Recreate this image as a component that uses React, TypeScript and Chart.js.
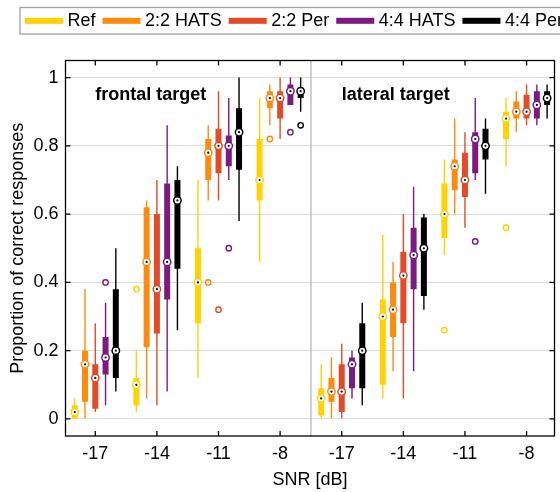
import React, { useEffect, useRef } from 'react';
import { Chart, registerables } from 'chart.js';

Chart.register(...registerables);

const FONT = "'Liberation Sans', Arial, Helvetica, sans-serif";

// ---- categories and labels ----
const snrLevels = [-17, -14, -11, -8];
const snrTickLabels = ['-17', '-14', '-11', '-8'];
const panelTitles = ['frontal target', 'lateral target'];
const panelShift = [0, 12]; // the lateral panel sits 12 dB to the right on the shared axis
const panelDivider = -6.5;
const seriesNames = ['Ref', '2:2 HATS', '2:2 Per', '4:4 HATS', '4:4 Per'];
const seriesColors = ['#FFD200', '#FF8A0E', '#E34B28', '#7B1A80', '#000000'];
const seriesOffsets = [-1, -0.5, 0, 0.5, 1]; // dB offset of each series within a group
const yTickValues = [0, 0.2, 0.4, 0.6, 0.8, 1];

// ---- box statistics: [min, q1, median, q3, max] per SNR level ----
type Stats = [number, number, number, number, number];

const refFrontal: Stats[] = [
  [0, 0, 0.02, 0.04, 0.06],
  [0.02, 0.04, 0.1, 0.12, 0.2],
  [0.12, 0.28, 0.4, 0.5, 0.7],
  [0.46, 0.64, 0.7, 0.82, 0.94],
];
const hats22Frontal: Stats[] = [
  [0, 0.05, 0.16, 0.2, 0.38],
  [0.06, 0.21, 0.46, 0.62, 0.64],
  [0.64, 0.7, 0.78, 0.82, 0.86],
  [0.86, 0.91, 0.94, 0.96, 0.98],
];
const per22Frontal: Stats[] = [
  [0.02, 0.03, 0.12, 0.16, 0.28],
  [0.04, 0.25, 0.38, 0.6, 0.7],
  [0.64, 0.72, 0.8, 0.85, 0.96],
  [0.82, 0.88, 0.94, 0.96, 1.0],
];
const hats44Frontal: Stats[] = [
  [0.04, 0.13, 0.18, 0.24, 0.34],
  [0.08, 0.35, 0.46, 0.69, 0.86],
  [0.7, 0.74, 0.8, 0.83, 0.94],
  [0.92, 0.92, 0.96, 0.98, 1.0],
];
const per44Frontal: Stats[] = [
  [0.08, 0.12, 0.2, 0.38, 0.5],
  [0.26, 0.44, 0.64, 0.7, 0.74],
  [0.58, 0.73, 0.84, 0.91, 1.0],
  [0.9, 0.94, 0.96, 0.97, 1.0],
];

const refLateral: Stats[] = [
  [0, 0.01, 0.06, 0.09, 0.16],
  [0.06, 0.1, 0.3, 0.35, 0.54],
  [0.48, 0.53, 0.6, 0.69, 0.76],
  [0.74, 0.82, 0.88, 0.9, 0.94],
];
const hats22Lateral: Stats[] = [
  [0, 0.05, 0.08, 0.12, 0.18],
  [0.14, 0.24, 0.32, 0.4, 0.46],
  [0.6, 0.67, 0.74, 0.76, 0.88],
  [0.84, 0.88, 0.9, 0.93, 0.96],
];
const per22Lateral: Stats[] = [
  [0, 0.02, 0.08, 0.16, 0.22],
  [0.06, 0.28, 0.42, 0.49, 0.6],
  [0.56, 0.65, 0.7, 0.78, 0.84],
  [0.86, 0.88, 0.9, 0.95, 0.98],
];
const hats44Lateral: Stats[] = [
  [0.06, 0.09, 0.16, 0.18, 0.2],
  [0.14, 0.38, 0.48, 0.56, 0.68],
  [0.7, 0.72, 0.82, 0.84, 0.94],
  [0.86, 0.88, 0.92, 0.96, 0.98],
];
const per44Lateral: Stats[] = [
  [0.04, 0.09, 0.2, 0.28, 0.34],
  [0.32, 0.36, 0.5, 0.59, 0.6],
  [0.66, 0.76, 0.8, 0.85, 0.88],
  [0.88, 0.92, 0.94, 0.96, 0.98],
];

// ---- outliers: [snr, value] ----
const refFrontalOutliers = [[-14, 0.38]];
const hats22FrontalOutliers = [[-11, 0.4], [-8, 0.82]];
const per22FrontalOutliers = [[-11, 0.32]];
const hats44FrontalOutliers = [[-17, 0.4], [-11, 0.5], [-8, 0.84]];
const per44FrontalOutliers = [[-8, 0.86]];

const refLateralOutliers = [[-11, 0.26], [-8, 0.56]];
const hats22LateralOutliers: number[][] = [];
const per22LateralOutliers: number[][] = [];
const hats44LateralOutliers = [[-11, 0.52]];
const per44LateralOutliers: number[][] = [];

const panelStats = [
  [refFrontal, hats22Frontal, per22Frontal, hats44Frontal, per44Frontal],
  [refLateral, hats22Lateral, per22Lateral, hats44Lateral, per44Lateral],
];
const panelOutliers = [
  [refFrontalOutliers, hats22FrontalOutliers, per22FrontalOutliers, hats44FrontalOutliers, per44FrontalOutliers],
  [refLateralOutliers, hats22LateralOutliers, per22LateralOutliers, hats44LateralOutliers, per44LateralOutliers],
];

const xTickValues = panelShift.flatMap((sh) => snrLevels.map((l) => l + sh));
const xTickLabels = panelShift.flatMap(() => snrTickLabels);

function buildDatasets() {
  const datasets: any[] = [];
  seriesNames.forEach((name, s) => {
    const color = seriesColors[s];
    const whiskers: any[] = [];
    const boxes: any[] = [];
    const medians: any[] = [];
    const outliers: any[] = [];
    panelStats.forEach((stats, p) => {
      stats[s].forEach((st, i) => {
        const x = snrLevels[i] + panelShift[p] + seriesOffsets[s];
        whiskers.push({ x, y: [st[0], st[4]] });
        boxes.push({ x, y: [st[1], st[3]] });
        medians.push({ x, y: st[2] });
      });
      panelOutliers[p][s].forEach(([snr, v]) => {
        outliers.push({ x: snr + panelShift[p] + seriesOffsets[s], y: v });
      });
    });
    datasets.push({
      type: 'bar', label: name + ' range', data: whiskers, backgroundColor: color,
      grouped: false, barThickness: 1.4, maxBarThickness: 1.4, borderWidth: 0, inflateAmount: 0, order: 40,
    });
    datasets.push({
      type: 'bar', label: name + ' IQR', data: boxes, backgroundColor: color,
      grouped: false, barThickness: 6, maxBarThickness: 6, borderWidth: 0, inflateAmount: 0, order: 30,
    });
    datasets.push({
      type: 'scatter', label: name + ' outliers', data: outliers, pointStyle: 'circle',
      pointRadius: 2.7, pointBorderWidth: 1.4, borderColor: color, pointBorderColor: color,
      pointBackgroundColor: '#ffffff', backgroundColor: '#ffffff', order: 20,
    });
    datasets.push({
      type: 'scatter', label: name + ' median', data: medians, pointStyle: 'circle',
      pointRadius: 3.7, pointBorderWidth: 1.5, borderColor: color, pointBorderColor: color,
      pointBackgroundColor: '#ffffff', backgroundColor: '#ffffff', order: 10,
    });
    datasets.push({
      type: 'scatter', label: name + ' median dot', data: medians, pointStyle: 'circle',
      pointRadius: 1.1, pointBorderWidth: 0, pointBackgroundColor: '#000000',
      backgroundColor: '#000000', borderColor: '#000000', order: 5,
    });
  });
  return datasets;
}

const decorations = {
  id: 'decorations',
  beforeDatasetsDraw(chart: any) {
    const { ctx, chartArea: a, scales } = chart;
    const px = scales.x.getPixelForValue(panelDivider);
    ctx.save();
    ctx.strokeStyle = '#b5b5b5';
    ctx.lineWidth = 1.3;
    ctx.beginPath();
    ctx.moveTo(px, a.top);
    ctx.lineTo(px, a.bottom);
    ctx.stroke();
    ctx.restore();
  },
  afterDraw(chart: any) {
    const { ctx, chartArea: a, scales } = chart;
    const xs = scales.x;
    const ys = scales.y;
    ctx.save();

    // panel titles
    ctx.fillStyle = '#000';
    ctx.font = `bold 18px ${FONT}`;
    ctx.textAlign = 'left';
    ctx.textBaseline = 'middle';
    panelTitles.forEach((t, p) => {
      ctx.fillText(t, xs.getPixelForValue(snrLevels[0] + panelShift[p]), ys.getPixelForValue(0.95));
    });

    // frame with inward ticks on all sides
    ctx.strokeStyle = '#000';
    ctx.lineWidth = 1.3;
    ctx.strokeRect(a.left, a.top, a.right - a.left, a.bottom - a.top);
    ctx.beginPath();
    const tl = 5;
    xTickValues.forEach((v) => {
      const px = xs.getPixelForValue(v);
      ctx.moveTo(px, a.bottom);
      ctx.lineTo(px, a.bottom - tl);
      ctx.moveTo(px, a.top);
      ctx.lineTo(px, a.top + tl);
    });
    yTickValues.forEach((v) => {
      const py = ys.getPixelForValue(v);
      ctx.moveTo(a.left, py);
      ctx.lineTo(a.left + tl, py);
      ctx.moveTo(a.right, py);
      ctx.lineTo(a.right - tl, py);
    });
    ctx.stroke();

    // legend
    const boxLeft = 20;
    const boxTop = 7.5;
    const boxBottom = 34;
    const midY = 20.8;
    ctx.strokeStyle = '#a0a0a0';
    ctx.lineWidth = 1.3;
    ctx.strokeRect(boxLeft, boxTop, chart.width + 20 - boxLeft, boxBottom - boxTop);
    ctx.font = `18px ${FONT}`;
    ctx.textBaseline = 'middle';
    let lx = boxLeft + 5;
    seriesNames.forEach((name, s) => {
      ctx.fillStyle = seriesColors[s];
      ctx.fillRect(lx, midY - 3, 38, 6);
      ctx.fillStyle = '#000';
      const tx = lx + 38 + 4.5;
      ctx.fillText(name, tx, midY);
      lx = tx + ctx.measureText(name).width + 7;
    });
    ctx.restore();
  },
};

export default function App() {
  const canvasRef = useRef<HTMLCanvasElement | null>(null);

  useEffect(() => {
    if (!canvasRef.current) return;
    const chart = new Chart(canvasRef.current, {
      type: 'bar',
      data: { datasets: buildDatasets() },
      options: {
        animation: false,
        responsive: false,
        events: [],
        layout: { padding: { top: 60.5, right: 0.5, left: 0, bottom: 0 } },
        plugins: {
          legend: { display: false },
          tooltip: { enabled: false },
        },
        scales: {
          x: {
            type: 'linear',
            min: -18.45,
            max: 5.36,
            offset: false,
            grid: { display: false, drawTicks: false, offset: false },
            border: { display: false },
            afterBuildTicks: (scale: any) => {
              scale.ticks = xTickValues.map((v) => ({ value: v }));
            },
            afterFit: (scale: any) => {
              scale.height = 56;
            },
            ticks: {
              autoSkip: false,
              maxRotation: 0,
              padding: 7,
              color: '#000',
              font: { family: FONT, size: 18 },
              callback: (_v: any, i: number) => xTickLabels[i],
            },
            title: {
              display: true,
              text: 'SNR [dB]',
              color: '#000',
              font: { family: FONT, size: 18 },
              padding: { top: 0, bottom: 1 },
            },
          },
          y: {
            type: 'linear',
            min: -0.05,
            max: 1.05,
            grid: { color: '#dcdcdc', lineWidth: 1, drawTicks: false },
            border: { display: false },
            afterBuildTicks: (scale: any) => {
              scale.ticks = yTickValues.map((v) => ({ value: v }));
            },
            afterFit: (scale: any) => {
              scale.width = 65.5;
            },
            ticks: {
              padding: 7,
              color: '#000',
              font: { family: FONT, size: 18 },
              callback: (v: any) => String(+Number(v).toFixed(1)),
            },
            title: {
              display: true,
              text: 'Proportion of correct responses',
              color: '#000',
              font: { family: FONT, size: 18 },
              padding: { top: 7, bottom: 0 },
            },
          },
        },
      },
      plugins: [decorations],
    } as any);
    return () => chart.destroy();
  }, []);

  return (
    <div style={{ position: 'absolute', left: 0, top: 0, width: 560, height: 492, background: '#fff' }}>
      <canvas ref={canvasRef} width={560} height={492} style={{ display: 'block' }} />
    </div>
  );
}
